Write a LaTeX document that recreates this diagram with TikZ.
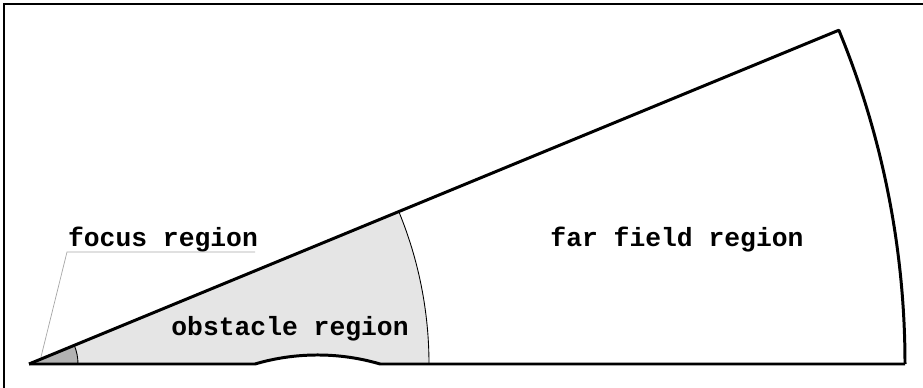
\documentclass[tikz,border=0pt]{standalone}
\usepackage{fontspec}
\setmonofont{Liberation Mono}
\usepackage{tikz}

\tikzset{
  region/.style={font=\fontsize{15}{18}\selectfont\ttfamily\bfseries, anchor=base, inner sep=0pt},
  boundary/.style={line width=1.7pt, line join=round},
  interface/.style={line width=0.5pt},
  leader/.style={gray!70, line width=0.4pt}
}

\begin{document}
\begin{tikzpicture}[x=0.02cm, y=0.02cm]
    \useasboundingbox (0,0) rectangle (923,388);
    % Frame
    \draw[line width=1.3pt] (4,0) -- (4,384) -- (923,384);
    % Apex of the sector
    \coordinate (apex) at (29,24);
    % Obstacle region (with bump on the lower wall)
    \fill[gray!20] (apex) -- (255,24) arc[start angle=106.4, end angle=73.6, radius=221.5]
      -- (429,24) arc[start angle=0, end angle=22.4, radius=400] -- cycle;
    \draw[interface] (429,24) arc[start angle=0, end angle=22.4, radius=400];
    % Focus region
    \fill[gray!60] (apex) -- ++(49,0) arc[start angle=0, end angle=22.4, radius=49] -- cycle;
    \draw[interface] (78,24) arc[start angle=0, end angle=22.4, radius=49];
    % Outer boundary
    \draw[boundary] (apex) -- ++(22.4:876) coordinate (tip)
      arc[start angle=22.4, end angle=0, radius=876] coordinate (rim);
    \draw[boundary] (apex) -- (255,24) arc[start angle=106.4, end angle=73.6, radius=221.5] -- (rim);
    % Labels
    \node[region] (far) at (677,141) {far field region};
    \node[region] (obst) at (290,52) {obstacle region};
    \node[region] (focus) at (163,141) {focus region};
    % Leader to focus region
    \coordinate (focustip) at (41,31);
    \coordinate (focusul) at (67,136);
    \draw[leader] (focustip) -- (focusul) -- (255,136);
\end{tikzpicture}
\end{document}
